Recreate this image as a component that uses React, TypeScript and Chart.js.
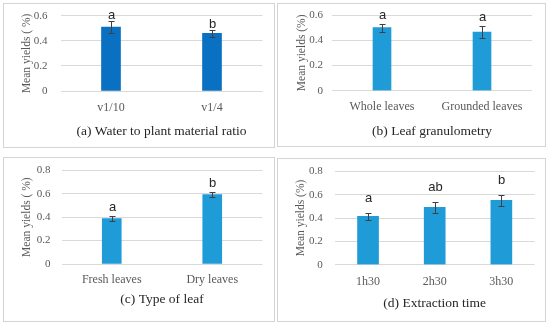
import React, { useEffect, useRef } from 'react';
import { Chart, registerables } from 'chart.js';
Chart.register(...registerables);

// Panel (a)
const catsA = ['v1/10', 'v1/4'];
const valsA = [0.51, 0.46];
const errsA = [0.048, 0.03];
const lettersA = ['a', 'b'];
// Panel (b)
const catsB = ['Whole leaves', 'Grounded leaves'];
const valsB = [0.5, 0.465];
const errsB = [0.032, 0.044];
const lettersB = ['a', 'a'];
// Panel (c)
const catsC = ['Fresh leaves', 'Dry leaves'];
const valsC = [0.388, 0.592];
const errsC = [0.02, 0.022];
const lettersC = ['a', 'b'];
// Panel (d)
const catsD = ['1h30', '2h30', '3h30'];
const valsD = [0.415, 0.492, 0.552];
const errsD = [0.028, 0.047, 0.048];
const lettersD = ['a', 'ab', 'b'];

const yTicks06 = [0, 0.2, 0.4, 0.6];
const yTicks08 = [0, 0.2, 0.4, 0.6, 0.8];

const SERIF = "'Liberation Serif', 'Times New Roman', serif";
const SANS = "'Liberation Sans', Arial, sans-serif";

type PanelCfg = {
  left: number; top: number; w: number; h: number;
  cats: string[]; vals: number[]; errs: number[]; letters: string[];
  yTicks: number[]; yTitle: string; caption: string; color: string;
  padTop: number; padRight: number; yWidth: number; xHeight: number;
  yTitlePad: number; capPad: number; xTickPad: number; yTickPad: number;
  barW: number; gap: number;
};

const panels: PanelCfg[] = [
  {
    left: 3, top: 3, w: 272, h: 145, cats: catsA, vals: valsA, errs: errsA, letters: lettersA,
    yTicks: yTicks06, yTitle: 'Mean yields ( %)', caption: '(a) Water to plant material ratio', color: '#0a70c2',
    padTop: 12.7, padRight: 12.5, yWidth: 57.5, xHeight: 57, yTitlePad: 17, capPad: 8.9, xTickPad: 10, yTickPad: 13,
    barW: 19, gap: 3,
  },
  {
    left: 277, top: 3, w: 269, h: 144, cats: catsB, vals: valsB, errs: errsB, letters: lettersB,
    yTicks: yTicks06, yTitle: 'Mean yields (%)', caption: '(b) Leaf granulometry', color: '#1f9bd8',
    padTop: 12, padRight: 14, yWidth: 55, xHeight: 56.3, yTitlePad: 18, capPad: 7.2, xTickPad: 9, yTickPad: 9,
    barW: 18, gap: 5.5,
  },
  {
    left: 3, top: 157, w: 272, h: 165, cats: catsC, vals: valsC, errs: errsC, letters: lettersC,
    yTicks: yTicks08, yTitle: 'Mean yields ( %)', caption: '(c) Type of leaf', color: '#1f9bd8',
    padTop: 13.3, padRight: 12.5, yWidth: 58.5, xHeight: 58, yTitlePad: 17, capPad: 14.2, xTickPad: 9, yTickPad: 11,
    barW: 19, gap: 6,
  },
  {
    left: 277, top: 158, w: 269, h: 164, cats: catsD, vals: valsD, errs: errsD, letters: lettersD,
    yTicks: yTicks08, yTitle: 'Mean yields (%)', caption: '(d) Extraction time', color: '#1f9bd8',
    padTop: 13.3, padRight: 11.3, yWidth: 57.7, xHeight: 57.3, yTitlePad: 17, capPad: 10.9, xTickPad: 10, yTickPad: 12,
    barW: 21, gap: 12,
  },
];

function Panel({ cfg }: { cfg: PanelCfg }) {
  const ref = useRef<HTMLCanvasElement | null>(null);
  useEffect(() => {
    if (!ref.current) return;
    const errPlugin = {
      id: 'errLetters',
      afterDatasetsDraw(chart: any) {
        const { ctx } = chart;
        const meta = chart.getDatasetMeta(0);
        const ys = chart.scales.y;
        ctx.save();
        ctx.strokeStyle = '#404040';
        ctx.lineWidth = 1;
        cfg.errs.forEach((e, i) => {
          const v = cfg.vals[i];
          const x = Math.round(meta.data[i].x) + 0.5;
          const yt = Math.round(ys.getPixelForValue(v + e)) + 0.5;
          const yb = Math.round(ys.getPixelForValue(v - e)) + 0.5;
          ctx.beginPath();
          ctx.moveTo(x, yt); ctx.lineTo(x, yb);
          ctx.moveTo(x - 3, yt); ctx.lineTo(x + 3, yt);
          ctx.moveTo(x - 3, yb); ctx.lineTo(x + 3, yb);
          ctx.stroke();
          ctx.fillStyle = '#262626';
          ctx.font = `13px ${SANS}`;
          ctx.textAlign = 'center';
          ctx.textBaseline = 'alphabetic';
          ctx.fillText(cfg.letters[i], x, yt - cfg.gap);
        });
        ctx.restore();
      },
    };
    const borderPlugin = {
      id: 'panelBorder',
      afterDraw(chart: any) {
        const { ctx, width, height } = chart;
        ctx.save();
        ctx.strokeStyle = '#d4d4d4';
        ctx.lineWidth = 1;
        ctx.strokeRect(0.5, 0.5, width - 1, height - 1);
        ctx.restore();
      },
    };
    const chart = new Chart(ref.current, {
      type: 'bar',
      data: {
        labels: cfg.cats,
        datasets: [{ data: cfg.vals, backgroundColor: cfg.color, barThickness: cfg.barW, borderWidth: 0 }],
      },
      options: {
        responsive: false,
        animation: false,
        devicePixelRatio: 1,
        layout: { padding: { top: cfg.padTop, right: cfg.padRight, left: 0, bottom: 0 } },
        plugins: { legend: { display: false }, tooltip: { enabled: false }, title: { display: false } },
        scales: {
          x: {
            grid: { display: false, drawTicks: false },
            border: { display: false },
            ticks: { color: '#595959', font: { family: SERIF, size: 12 }, padding: cfg.xTickPad, maxRotation: 0, autoSkip: false },
            title: {
              display: true, text: cfg.caption, color: '#262626',
              font: { family: SERIF, size: 13.5 }, padding: { top: 0, bottom: cfg.capPad },
            },
            afterFit: (s: any) => { s.height = cfg.xHeight; },
          },
          y: {
            min: 0,
            max: cfg.yTicks[cfg.yTicks.length - 1],
            afterBuildTicks: (s: any) => { s.ticks = cfg.yTicks.map((v) => ({ value: v })); },
            grid: {
              color: '#d9d9d9', lineWidth: 1, drawTicks: true,
              tickLength: cfg.yTickPad, tickColor: 'rgba(0,0,0,0)',
            },
            border: { display: false },
            ticks: {
              color: '#595959', font: { family: SERIF, size: 11 }, padding: 0,
              callback: (v: any) => (Number(v) === 0 ? '0' : Number(v).toFixed(1)),
            },
            title: {
              display: true, text: cfg.yTitle, color: '#595959',
              font: { family: SERIF, size: 11.5 }, padding: { top: cfg.yTitlePad, bottom: 0 },
            },
            afterFit: (s: any) => { s.width = cfg.yWidth; },
          },
        },
      },
      plugins: [errPlugin, borderPlugin],
    } as any);
    return () => chart.destroy();
  }, [cfg]);
  return (
    <canvas
      ref={ref}
      width={cfg.w}
      height={cfg.h}
      style={{ position: 'absolute', left: cfg.left, top: cfg.top, width: cfg.w, height: cfg.h }}
    />
  );
}

export default function App() {
  return (
    <div style={{ position: 'absolute', left: 0, top: 0, width: 550, height: 326, background: '#fff' }}>
      {panels.map((p, i) => (
        <Panel key={i} cfg={p} />
      ))}
    </div>
  );
}
